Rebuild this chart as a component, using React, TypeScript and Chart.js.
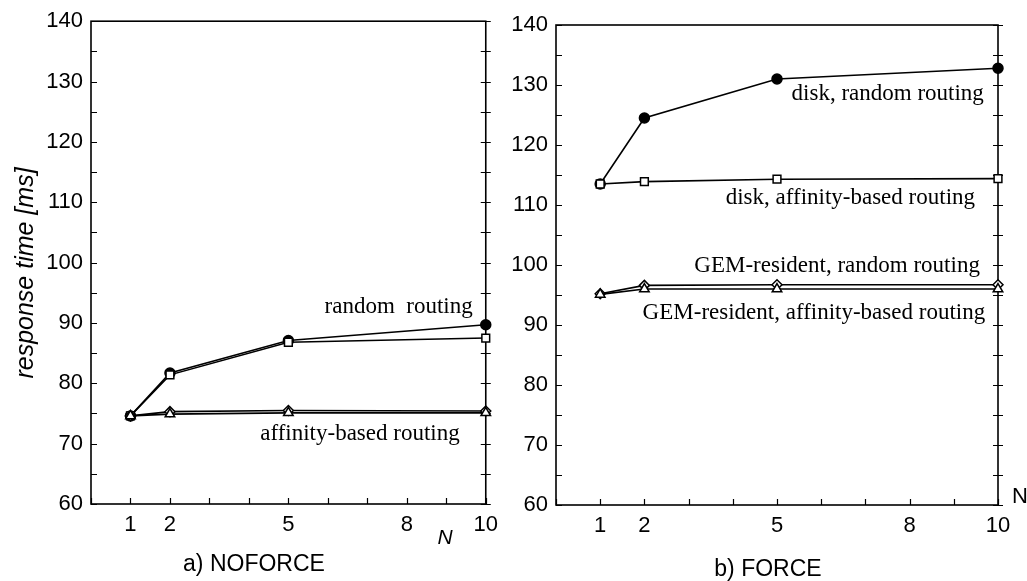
import React, { useEffect, useRef } from "react";
import { Chart, registerables } from "chart.js";

Chart.register(...registerables);

// ---------- data ----------
const nValues = [1, 2, 5, 10];
const xTickLabels = [1, 2, 5, 8, 10];
const yTickLabels = [60, 70, 80, 90, 100, 110, 120, 130, 140];

// a) NOFORCE
const noforceRandom = [74.6, 81.7, 87.1, 89.7];
const noforceAffinity = [74.6, 81.4, 86.8, 87.5];
const noforceGemRandom = [74.6, 75.3, 75.5, 75.4];
const noforceGemAffinity = [74.6, 74.9, 75.1, 75.1];

// b) FORCE
const forceDiskRandom = [113.5, 124.5, 131.0, 132.8];
const forceDiskAffinity = [113.5, 113.9, 114.3, 114.4];
const forceGemRandom = [95.2, 96.6, 96.7, 96.7];
const forceGemAffinity = [95.1, 96.0, 96.0, 96.0];

const leftTitle = "a) NOFORCE";
const rightTitle = "b) FORCE";
const yTitle = "response time [ms]";
const xTitle = "N";

const leftNotes = [
  { text: "random  routing", x: 9.67, y: 91.7 },
  { text: "affinity-based routing", x: 9.34, y: 70.6 },
];
const rightNotes = [
  { text: "disk, random routing", x: 9.68, y: 127.5 },
  { text: "disk, affinity-based routing", x: 9.48, y: 110.2 },
  { text: "GEM-resident, random routing", x: 9.59, y: 98.9 },
  { text: "GEM-resident, affinity-based routing", x: 9.71, y: 91.0 },
];

// ---------- styling ----------
const SANS = "'Liberation Sans', Arial, sans-serif";
const SERIF = "'Liberation Serif', 'Times New Roman', serif";

type Series = { values: number[]; style: string; radius: number; fill: string };

const leftSeries: Series[] = [
  { values: noforceGemAffinity, style: "triangle", radius: 5.5, fill: "#fff" },
  { values: noforceGemRandom, style: "rectRot", radius: 5, fill: "#fff" },
  { values: noforceAffinity, style: "rect", radius: 5.5, fill: "#fff" },
  { values: noforceRandom, style: "circle", radius: 5, fill: "#000" },
];
const rightSeries: Series[] = [
  { values: forceGemAffinity, style: "triangle", radius: 5.5, fill: "#fff" },
  { values: forceGemRandom, style: "rectRot", radius: 5, fill: "#fff" },
  { values: forceDiskAffinity, style: "rect", radius: 5.5, fill: "#fff" },
  { values: forceDiskRandom, style: "circle", radius: 5, fill: "#000" },
];

type Panel = {
  series: Series[];
  notes: { text: string; x: number; y: number }[];
  padTop: number;
  padRight: number;
  yAxisWidth: number;
  xAxisHeight: number;
  decorate: (ctx: CanvasRenderingContext2D, chart: any) => void;
};

function panelPlugin(p: Panel) {
  return {
    id: "panelDeco",
    beforeDatasetsDraw(chart: any) {
      const ctx = chart.ctx as CanvasRenderingContext2D;
      const a = chart.chartArea;
      const xs = chart.scales.x;
      const ys = chart.scales.y;
      ctx.save();
      ctx.strokeStyle = "#000";
      ctx.lineWidth = 1.6;
      ctx.strokeRect(a.left, a.top, a.right - a.left, a.bottom - a.top);
      ctx.lineWidth = 1.2;
      ctx.beginPath();
      xs.ticks.forEach((t: any) => {
        const px = Math.round(xs.getPixelForValue(t.value)) + 0.5;
        ctx.moveTo(px, a.bottom);
        ctx.lineTo(px, a.bottom - 6);
      });
      ys.ticks.forEach((t: any) => {
        const py = Math.round(ys.getPixelForValue(t.value)) + 0.5;
        ctx.moveTo(a.left, py);
        ctx.lineTo(a.left + 6, py);
        ctx.moveTo(a.right - 5, py);
        ctx.lineTo(a.right + 5, py);
      });
      ctx.stroke();
      ctx.restore();
    },
    afterDraw(chart: any) {
      const ctx = chart.ctx as CanvasRenderingContext2D;
      const xs = chart.scales.x;
      const ys = chart.scales.y;
      ctx.save();
      ctx.fillStyle = "#000";
      ctx.font = `23px ${SERIF}`;
      ctx.textAlign = "right";
      ctx.textBaseline = "alphabetic";
      p.notes.forEach((n) => {
        ctx.fillText(n.text, xs.getPixelForValue(n.x), ys.getPixelForValue(n.y));
      });
      p.decorate(ctx, chart);
      ctx.restore();
    },
  };
}

function buildConfig(p: Panel): any {
  return {
    type: "line",
    data: {
      datasets: p.series.map((s) => ({
        data: nValues.map((n, i) => ({ x: n, y: s.values[i] })),
        borderColor: "#000",
        borderWidth: 1.6,
        pointStyle: s.style,
        pointRadius: s.radius,
        pointBackgroundColor: s.fill,
        pointBorderColor: "#000",
        pointBorderWidth: 1.5,
        fill: false,
        tension: 0,
        clip: false,
      })),
    },
    options: {
      animation: false,
      responsive: false,
      devicePixelRatio: 1,
      layout: { padding: { left: 0, top: p.padTop, right: p.padRight, bottom: 0 } },
      plugins: { legend: { display: false }, tooltip: { enabled: false } },
      scales: {
        x: {
          type: "linear",
          min: 0,
          max: 10,
          grid: { display: false, drawTicks: false },
          border: { display: false },
          ticks: {
            stepSize: 1,
            autoSkip: false,
            maxRotation: 0,
            padding: 8,
            color: "#000",
            font: { family: SANS, size: 22 },
            callback: (v: any) => (xTickLabels.includes(Number(v)) ? String(v) : ""),
          },
          afterFit: (s: any) => {
            s.height = p.xAxisHeight;
          },
        },
        y: {
          type: "linear",
          min: 60,
          max: 140,
          grid: { display: false, drawTicks: false },
          border: { display: false },
          ticks: {
            stepSize: 5,
            padding: 8,
            color: "#000",
            font: { family: SANS, size: 22 },
            callback: (v: any) => (yTickLabels.includes(Number(v)) ? String(v) : ""),
          },
          afterFit: (s: any) => {
            s.width = p.yAxisWidth;
          },
        },
      },
    },
    plugins: [panelPlugin(p)],
  };
}

const leftPanel: Panel = {
  series: leftSeries,
  notes: leftNotes,
  padTop: 20,
  padRight: 20,
  yAxisWidth: 91,
  xAxisHeight: 77,
  decorate: (ctx) => {
    ctx.textAlign = "center";
    ctx.textBaseline = "middle";
    ctx.font = `23px ${SANS}`;
    ctx.fillText(leftTitle, 254, 565);
    ctx.font = `italic 21px ${SANS}`;
    ctx.fillText(xTitle, 445, 538);
    ctx.save();
    ctx.translate(26, 273);
    ctx.rotate(-Math.PI / 2);
    ctx.font = `italic 25px ${SANS}`;
    ctx.fillText(yTitle, 0, 0);
    ctx.restore();
  },
};

const rightPanel: Panel = {
  series: rightSeries,
  notes: rightNotes,
  padTop: 25,
  padRight: 29,
  yAxisWidth: 56,
  xAxisHeight: 76,
  decorate: (ctx) => {
    ctx.textAlign = "center";
    ctx.textBaseline = "middle";
    ctx.font = `23px ${SANS}`;
    ctx.fillText(rightTitle, 268, 570);
    ctx.textAlign = "left";
    ctx.font = `22px ${SANS}`;
    ctx.fillText(xTitle, 512, 497);
  },
};

export default function App() {
  const leftRef = useRef<HTMLCanvasElement>(null);
  const rightRef = useRef<HTMLCanvasElement>(null);

  useEffect(() => {
    const c1 = new Chart(leftRef.current as HTMLCanvasElement, buildConfig(leftPanel));
    const c2 = new Chart(rightRef.current as HTMLCanvasElement, buildConfig(rightPanel));
    return () => {
      c1.destroy();
      c2.destroy();
    };
  }, []);

  return (
    <div
      style={{
        position: "fixed",
        left: 0,
        top: 0,
        width: 1027,
        height: 581,
        background: "#fff",
        overflow: "hidden",
      }}
    >
      <canvas
        ref={leftRef}
        width={506}
        height={581}
        style={{ position: "absolute", left: 0, top: 0, width: 506, height: 581 }}
      />
      <canvas
        ref={rightRef}
        width={527}
        height={581}
        style={{ position: "absolute", left: 500, top: 0, width: 527, height: 581 }}
      />
    </div>
  );
}
